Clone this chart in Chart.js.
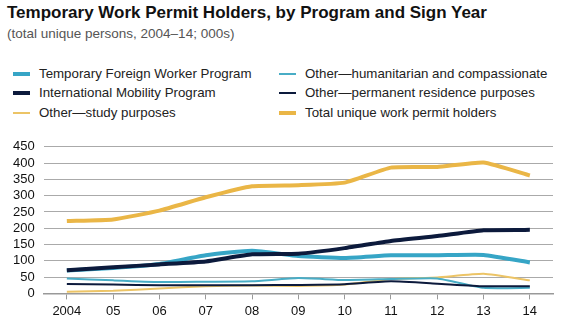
<!DOCTYPE html>
<html>
<head>
<meta charset="utf-8">
<script src="https://cdn.jsdelivr.net/npm/chart.js@4"></script>
<style>
  body { margin: 0; background: #fff; font-family: "Liberation Sans", Arial, sans-serif; width: 563px; height: 325px; overflow: hidden; position: relative; }
  #titulo { position: absolute; left: 7px; top: 3px; font-size: 17px; font-weight: bold; color: #111; }
  #subtitulo { position: absolute; left: 7px; top: 26px; font-size: 13.5px; color: #555; }
  #legenda { position: absolute; left: 0; top: 66px; width: 563px; }
  .item { position: absolute; font-size: 13.3px; color: #222; white-space: nowrap; }
  .item span.marca { position: absolute; left: -26px; width: 17px; }
  #area { position: absolute; left: 0; top: 130px; width: 563px; height: 195px; }
</style>
</head>
<body>
<div id="titulo">Temporary Work Permit Holders, by Program and Sign Year</div>
<div id="subtitulo">(total unique persons, 2004–14; 000s)</div>
<div id="legenda"></div>
<div id="area"><canvas id="grafico"></canvas></div>
<script>
const anos = ['2004', '05', '06', '07', '08', '09', '10', '11', '12', '13', '14'];
const trabalhadorEstrangeiro = [70, 78, 90, 117, 131, 115, 109, 117, 117, 118, 95];
const mobilidadeInternacional = [71, 80, 89, 98, 120, 122, 139, 161, 176, 194, 195];
const estudo = [5, 8, 15, 22, 24, 23, 27, 44, 49, 60, 40];
const humanitario = [46, 40, 35, 36, 37, 47, 41, 44, 46, 17, 17];
const residencia = [29, 27, 25, 25, 25, 26, 28, 37, 30, 22, 22];
const totalPermissoes = [222, 227, 254, 295, 329, 332, 340, 386, 388, 402, 362];
const ticksY = [0, 50, 100, 150, 200, 250, 300, 350, 400, 450];

const series = [
    { label: 'Temporary Foreign Worker Program', data: trabalhadorEstrangeiro, cor: '#36a5c6', largura: 4, ordem: 3, col: 0, lin: 0 },
    { label: 'International Mobility Program', data: mobilidadeInternacional, cor: '#0c1a3c', largura: 4, ordem: 2, col: 0, lin: 1 },
    { label: 'Other\u2014study purposes', data: estudo, cor: '#ecc466', largura: 2, ordem: 6, col: 0, lin: 2 },
    { label: 'Other\u2014humanitarian and compassionate', data: humanitario, cor: '#48adc6', largura: 2, ordem: 5, col: 1, lin: 0 },
    { label: 'Other\u2014permanent residence purposes', data: residencia, cor: '#0c1a3c', largura: 2, ordem: 4, col: 1, lin: 1 },
    { label: 'Total unique work permit holders', data: totalPermissoes, cor: '#eab646', largura: 4, ordem: 1, col: 1, lin: 2 }
];

// legenda em duas colunas
const legenda = document.getElementById('legenda')
series.forEach(s => {
    const div = document.createElement('div')
    div.className = 'item'
    div.style.left = (s.col == 0 ? 39 : 305) + 'px'
    div.style.top = (s.lin * 19.3) + 'px'
    const marca = document.createElement('span')
    marca.className = 'marca'
    marca.style.top = (8 - s.largura / 2) + 'px'
    marca.style.height = s.largura + 'px'
    marca.style.background = s.cor
    div.appendChild(marca)
    div.appendChild(document.createTextNode(s.label))
    legenda.appendChild(div)
})

const ctx = document.getElementById('grafico');
new Chart(ctx, {
    type: 'line',
    data: {
        labels: anos,
        datasets: series.map(s => ({
            label: s.label,
            data: s.data,
            borderColor: s.cor,
            backgroundColor: s.cor,
            borderWidth: s.largura,
            pointRadius: 0,
            tension: 0.15,
            fill: false,
            order: s.ordem
        }))
    },
    options: {
        responsive: true,
        maintainAspectRatio: false,
        animation: false,
        layout: { padding: { left: 4, right: 10, top: 1, bottom: 2 } },
        plugins: {
            legend: { display: false },
            tooltip: { enabled: false }
        },
        scales: {
            x: {
                offset: true,
                grid: { drawOnChartArea: false, drawTicks: true, tickLength: 6, offset: false, color: '#999' },
                border: { display: true, color: '#999', width: 1.5 },
                ticks: { color: '#111', font: { size: 13, family: 'Liberation Sans' }, padding: 4, maxRotation: 0 }
            },
            y: {
                min: 0,
                max: 450,
                afterBuildTicks: eixo => { eixo.ticks = ticksY.map(v => ({ value: v })) },
                grid: { color: '#aaa', lineWidth: 1, drawTicks: false },
                border: { display: false },
                ticks: { color: '#111', font: { size: 13, family: 'Liberation Sans' }, padding: 9, autoSkip: false }
            }
        }
    }
});
</script>
</body>
</html>
